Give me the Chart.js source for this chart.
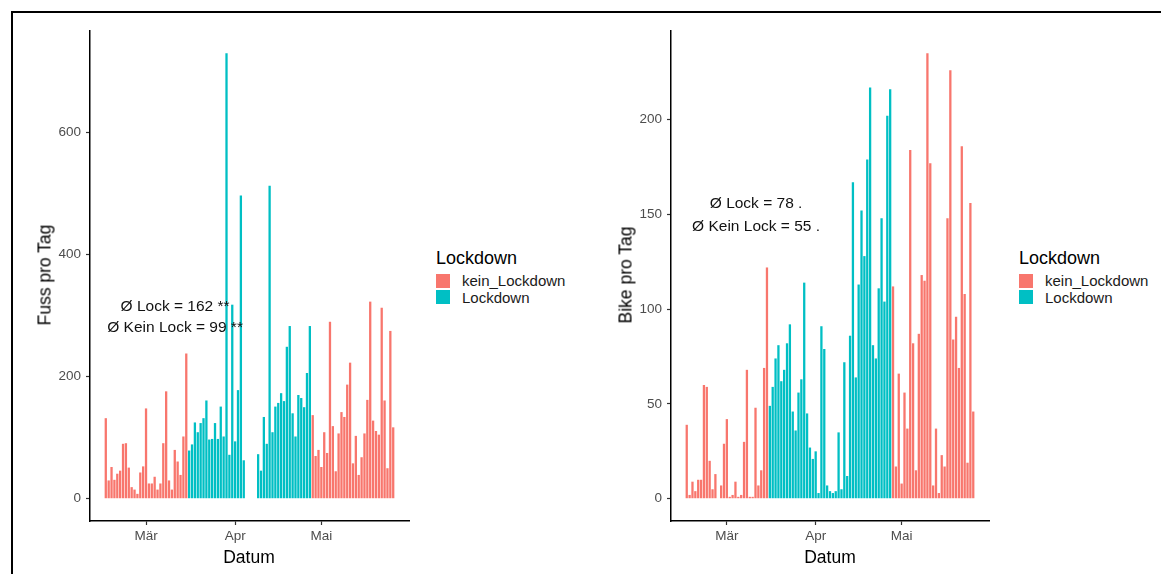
<!DOCTYPE html>
<html>
<head>
<meta charset="utf-8">
<script src="https://cdn.jsdelivr.net/npm/chart.js@4/dist/chart.umd.min.js"></script>
<style>
  html, body { margin: 0; padding: 0; background: #fff; }
  #wrap { position: relative; width: 1161px; height: 574px; overflow: hidden; background: #fff;
          font-family: 'Liberation Sans', Arial, sans-serif; }
  canvas { position: absolute; top: 0; }
  .txt { position: absolute; white-space: nowrap; color: #000; }
  .ytitle { transform: translate(-50%, -50%) rotate(-90deg); font-size: 17.5px; }
  .xtitle { transform: translate(-50%, -50%); font-size: 17.5px; }
  .sw { position: absolute; width: 14px; height: 14px; }
  .lt { font-size: 18px; line-height: 22px; }
  .li { font-size: 15px; line-height: 16px; color: #1a1a1a; }
  .bt { position: absolute; left: 11px; top: 11px; width: 1150px; height: 2px; background: #000; }
  .bl { position: absolute; left: 11px; top: 11px; width: 2px; height: 563px; background: #000; }
</style>
</head>
<body>
<div id="wrap">
  <div class="bt"></div>
  <div class="bl"></div>
  <canvas id="c1" width="420" height="574" style="left:0px"></canvas>
  <canvas id="c2" width="420" height="574" style="left:580px"></canvas>
</div>
<script>
// ---------------- data ----------------
const startDate = '2020-02-16';           // first day shown
const lockdownFrom = '2020-03-16';        // first Lockdown day
const lockdownTo = '2020-04-27';          // last Lockdown day
const seriesNames = ['kein_Lockdown', 'Lockdown'];
const legendTitle = 'Lockdown';
const seriesColors = ['#F8766D', '#00BFC4'];

// Fuss pro Tag, daily from 2020-02-16 to 2020-05-26 (null = no data)
const fussValues = [
  132, 30, 52, 31, 41, 46, 90, 91, 51, 19, 15, 8, 43, 53, 148, 25, 25, 36, 15, 25, 91, 176, 30, 15, 80, 61, 39, 102, 238,
  79, 89, 125, 109, 124, 132, 161, 97, 98, 124, 98, 151, 102, 730, 72, 318, 94, 178, 497, 63, null, null, null, null,
  73, 46, 134, 90, 513, 109, 151, 157, 173, 160, 249, 283, 140, 102, 170, 165, 150, 206, 283,
  137, 70, 80, 52, 109, 75, 290, 119, 45, 107, 142, 134, 187, 223, 58, 103, 39, 68, 107, 162, 323, 128, 111, 105, 313, 161, 50, 275, 117
];

// Bike pro Tag, daily from 2020-02-16 to 2020-05-26
const bikeValues = [
  39, 2, 9, 4, 10, 10, 60, 59, 20, 5, 13, 0, 7, 29, 42, 1, 2, 9, 1, 2, 30, 68, 1, 1, 48, 7, 15, 69, 122,
  49, 59, 74, 81, 62, 68, 82, 92, 46, 36, 56, 63, 114, 45, 27, 21, 25, 3, 91, 79, 7, 4, 3, 4, 35, 5, 72, 12, 86, 167,
  64, 113, 152, 128, 179, 217, 81, 74, 111, 148, 104, 202, 216,
  112, 17, 66, 8, 56, 37, 184, 82, 15, 87, 118, 115, 235, 177, 7, 37, 3, 23, 17, 148, 226, 84, 96, 69, 186, 108, 19, 156, 46
];

const monthTickDates = ['2020-03-01', '2020-04-01', '2020-05-01'];
const monthTickLabels = ['Mär', 'Apr', 'Mai'];
const fussTicks = [0, 200, 400, 600];
const bikeTicks = [0, 50, 100, 150, 200];

const fussNotes = ['Ø Lock = 162 **', 'Ø Kein Lock = 99 **'];
const bikeNotes = ['Ø Lock = 78 .', 'Ø Kein Lock = 55 .'];

// ---------------- helpers ----------------
const FONT = "'Liberation Sans', Arial, sans-serif";
function dayIdx(d) {
  return Math.round((Date.parse(d + 'T00:00:00Z') - Date.parse(startDate + 'T00:00:00Z')) / 86400000);
}
const lockA = dayIdx(lockdownFrom), lockB = dayIdx(lockdownTo);
const monthIdx = monthTickDates.map(dayIdx);

const notePlugin = {
  id: 'notes',
  afterDatasetsDraw(chart, args, opts) {
    const { ctx, scales } = chart;
    ctx.save();
    ctx.font = '15.5px ' + FONT;
    ctx.fillStyle = '#111';
    ctx.textAlign = 'center';
    ctx.textBaseline = 'middle';
    opts.texts.forEach((t, k) => {
      ctx.fillText(t, scales.x.getPixelForValue(opts.x), scales.y.getPixelForValue(opts.y[k]));
    });
    ctx.restore();
  }
};

function makeChart(id, values, yTicks, yAxisWidth, notes, noteX, noteY) {
  const red = [], cyan = [];
  values.forEach((v, i) => {
    if (v === null) return;
    (i >= lockA && i <= lockB ? cyan : red).push({ x: i, y: v });
  });
  const maxV = Math.max(...values.filter(v => v !== null));
  const n = values.length;
  const span = (n - 1) + 0.9;
  const ds = (label, data, color) => ({
    label, data, backgroundColor: color, borderWidth: 0,
    grouped: false, barPercentage: 0.8, categoryPercentage: 1
  });
  return new Chart(document.getElementById(id), {
    type: 'bar',
    data: { datasets: [ds(seriesNames[0], red, seriesColors[0]), ds(seriesNames[1], cyan, seriesColors[1])] },
    options: {
      responsive: false,
      animation: false,
      layout: { padding: { top: 31, right: 11, left: 0, bottom: 0 } },
      plugins: {
        legend: { display: false },
        tooltip: { enabled: false },
        notes: { texts: notes, x: noteX, y: noteY }
      },
      scales: {
        x: {
          type: 'linear',
          offset: false,
          min: -0.45 - 0.05 * span,
          max: (n - 1) + 0.45 + 0.05 * span,
          grid: { display: true, offset: false, drawOnChartArea: false, drawTicks: true, tickLength: 4, tickColor: '#333', tickWidth: 1.2 },
          border: { display: true, color: '#000', width: 1.5 },
          afterBuildTicks: s => { s.ticks = monthIdx.map(v => ({ value: v })); },
          ticks: {
            autoSkip: false, maxRotation: 0, color: '#4D4D4D', padding: 3,
            font: { family: FONT, size: 13.5 },
            callback: (v, i) => monthTickLabels[i]
          },
          afterFit: s => { s.height = 53; }
        },
        y: {
          min: -0.05 * maxV,
          max: 1.05 * maxV,
          grid: { display: true, drawOnChartArea: false, drawTicks: true, tickLength: 4, tickColor: '#333', tickWidth: 1.2 },
          border: { display: true, color: '#000', width: 1.5 },
          afterBuildTicks: s => { s.ticks = yTicks.map(v => ({ value: v })); },
          ticks: { color: '#4D4D4D', padding: 5, font: { family: FONT, size: 13.5 } },
          afterFit: s => { s.width = yAxisWidth; }
        }
      }
    },
    plugins: [notePlugin]
  });
}

makeChart('c1', fussValues, fussTicks, 90, fussNotes, 24.1, [315, 280]);
makeChart('c2', bikeValues, bikeTicks, 91, bikeNotes, 24.2, [155.6, 143.4]);

// ---------------- titles & legends (text) ----------------
const wrap = document.getElementById('wrap');
function addText(cls, text, style) {
  const d = document.createElement('div');
  d.className = 'txt ' + cls;
  d.textContent = text;
  Object.assign(d.style, style);
  wrap.appendChild(d);
  return d;
}
addText('ytitle', 'Fuss pro Tag', { left: '45px', top: '275px' });
addText('ytitle', 'Bike pro Tag', { left: '626px', top: '275px' });
addText('xtitle', 'Datum', { left: '249px', top: '557px' });
addText('xtitle', 'Datum', { left: '830px', top: '557px' });

function addLegend(x) {
  addText('lt', legendTitle, { left: x + 'px', top: '247px' });
  seriesNames.forEach((name, k) => {
    const sw = document.createElement('div');
    sw.className = 'sw';
    sw.style.left = x + 'px';
    sw.style.top = (274 + k * 16) + 'px';
    sw.style.background = seriesColors[k];
    wrap.appendChild(sw);
    addText('li', name, { left: (x + 26) + 'px', top: (273 + k * 17) + 'px' });
  });
}
addLegend(436);
addLegend(1019);
</script>
</body>
</html>
